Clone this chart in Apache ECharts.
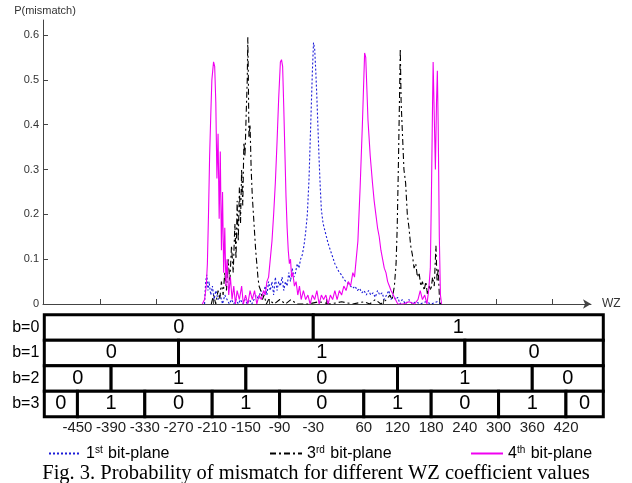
<!DOCTYPE html>
<html><head><meta charset="utf-8">
<script src="https://cdn.jsdelivr.net/npm/echarts@6/dist/echarts.min.js"></script>
<style>html,body{margin:0;padding:0;background:#fff}#c{width:632px;height:483px}</style>
</head><body><div id="c"></div>
<script>
// ---- data (WZ coefficient value, probability of mismatch) ----
const bitPlane1 = [[-224,0.0],[-222,0.05],[-220,0.065],[-218,0.03],[-216,0.05],[-213,0.02],[-210,0.04],[-207,0.01],[-204,0.03],[-200,0.01],[-196,0.02],[-192,0.0],[-188,0.02],[-184,0.01],[-180,0.0],[-176,0.01],[-172,0.0],[-168,0.01],[-164,0.0],[-160,0.01],[-156,0.0],[-152,0.01],[-148,0.0],[-144,0.01],[-140,0.0],[-136,0.01],[-132,0.02],[-128,0.01],[-124,0.03],[-120,0.02],[-116,0.04],[-113,0.02],[-110,0.05],[-107,0.03],[-104,0.05],[-101,0.02],[-98,0.06],[-95,0.03],[-92,0.05],[-89,0.04],[-86,0.06],[-83,0.03],[-80,0.05],[-77,0.04],[-74,0.07],[-71,0.05],[-68,0.08],[-65,0.06],[-62,0.07],[-59,0.09],[-56,0.08],[-53,0.1],[-50,0.11],[-47,0.13],[-44,0.16],[-41,0.2],[-38,0.28],[-36,0.36],[-34,0.44],[-32,0.52],[-30,0.583],[-28,0.57],[-26,0.52],[-24,0.46],[-22,0.39],[-20,0.32],[-18,0.26],[-16,0.21],[-13,0.18],[-10,0.165],[-7,0.15],[-4,0.135],[0,0.12],[4,0.105],[8,0.09],[12,0.08],[16,0.07],[20,0.065],[24,0.055],[28,0.05],[32,0.045],[36,0.04],[40,0.035],[44,0.04],[48,0.03],[52,0.035],[56,0.025],[60,0.03],[64,0.02],[68,0.03],[72,0.02],[76,0.025],[80,0.015],[84,0.03],[88,0.02],[92,0.025],[96,0.01],[100,0.02],[104,0.03],[108,0.01],[112,0.02],[116,0.01],[120,0.015],[124,0.0],[128,0.01],[134,0.0],[140,0.01],[146,0.0],[152,0.005],[160,0.0],[170,0.005],[180,0.0],[190,0.005],[197,0.0]];

const bitPlane3 = [[-212,0.0],[-208,0.02],[-204,0.0],[-200,0.03],[-197,0.01],[-194,0.05],[-191,0.02],[-188,0.07],[-185,0.03],[-182,0.1],[-179,0.05],[-176,0.13],[-173,0.07],[-170,0.18],[-168,0.1],[-166,0.23],[-164,0.14],[-162,0.26],[-160,0.18],[-158,0.3],[-156,0.22],[-154,0.36],[-152,0.33],[-150,0.42],[-148,0.5],[-147,0.595],[-146,0.5],[-145,0.37],[-143,0.4],[-141,0.3],[-139,0.24],[-137,0.2],[-135,0.16],[-133,0.12],[-131,0.09],[-129,0.06],[-127,0.04],[-124,0.03],[-121,0.01],[-118,0.02],[-114,0.0],[-110,0.01],[-100,0.0],[-90,0.01],[-80,0.0],[-70,0.01],[-60,0.0],[-40,0.0],[-20,0.005],[0,0.0],[20,0.005],[40,0.0],[60,0.005],[70,0.0],[80,0.01],[90,0.0],[100,0.01],[106,0.02],[110,0.01],[114,0.04],[117,0.09],[119,0.17],[121,0.3],[123,0.45],[124.5,0.57],[126,0.45],[128,0.39],[131,0.3],[134,0.27],[137,0.2],[140,0.17],[143,0.13],[146,0.11],[149,0.08],[152,0.09],[155,0.06],[158,0.07],[161,0.04],[164,0.05],[167,0.03],[170,0.05],[173,0.02],[176,0.04],[179,0.03],[182,0.06],[185,0.04],[188,0.13],[190,0.05],[192,0.08],[194,0.02],[196,0.0]];

const bitPlane4 = [[-228,0.0],[-224,0.01],[-221,0.04],[-219,0.09],[-217,0.2],[-215,0.33],[-213,0.42],[-211,0.5],[-208,0.54],[-206,0.53],[-204,0.45],[-202,0.28],[-200,0.38],[-198,0.19],[-196,0.34],[-194,0.12],[-192,0.25],[-190,0.07],[-188,0.17],[-186,0.04],[-184,0.1],[-181,0.02],[-178,0.06],[-175,0.01],[-172,0.04],[-169,0.0],[-166,0.03],[-162,0.01],[-158,0.04],[-155,0.0],[-151,0.02],[-147,0.0],[-143,0.03],[-139,0.01],[-135,0.03],[-131,0.0],[-127,0.02],[-123,0.01],[-119,0.03],[-116,0.02],[-113,0.05],[-110,0.06],[-107,0.1],[-104,0.14],[-101,0.2],[-98,0.27],[-95,0.36],[-92,0.46],[-89,0.54],[-87,0.545],[-85,0.53],[-83,0.44],[-81,0.34],[-79,0.24],[-77,0.17],[-75,0.12],[-73,0.09],[-71,0.1],[-69,0.06],[-67,0.07],[-64,0.04],[-61,0.05],[-58,0.02],[-55,0.04],[-52,0.01],[-48,0.03],[-44,0.01],[-40,0.02],[-36,0.0],[-32,0.02],[-28,0.01],[-24,0.03],[-20,0.0],[-16,0.02],[-12,0.01],[-8,0.02],[-4,0.0],[0,0.02],[4,0.01],[8,0.03],[12,0.01],[16,0.03],[20,0.02],[24,0.04],[28,0.03],[32,0.05],[36,0.04],[40,0.07],[43,0.06],[46,0.1],[49,0.14],[51,0.2],[53,0.26],[55,0.33],[57,0.4],[59,0.48],[61,0.56],[63,0.55],[65,0.48],[67,0.41],[69,0.37],[71,0.33],[73,0.3],[75,0.27],[78,0.23],[81,0.2],[84,0.17],[87,0.15],[90,0.12],[93,0.1],[96,0.08],[99,0.07],[102,0.05],[105,0.04],[108,0.03],[112,0.02],[116,0.01],[120,0.0],[130,0.0],[140,0.005],[150,0.0],[156,0.01],[160,0.03],[164,0.01],[168,0.02],[172,0.0],[175,0.03],[178,0.08],[180,0.25],[182,0.45],[183,0.54],[185,0.42],[187,0.3],[189,0.45],[190.5,0.52],[192,0.4],[194,0.15],[196,0.02],[198,0.0]];

const seriesNames = ['1st bit-plane', '3rd bit-plane', '4th bit-plane'];
const legendNums = ['1', '3', '4'];
const legendSups = ['st', 'rd', 'th'];

const yTicks = [0, 0.1, 0.2, 0.3, 0.4, 0.5, 0.6];
const plotTicks = [-410.4, -309.7, -208.9, -108.1, -7.3, 93.5, 194.3, 295.1, 395.8];
const plotMin = -511.7, plotMax = 464.1, yMax = 0.6335;

// bit table
const tableRows = ['b=0', 'b=1', 'b=2', 'b=3'];
const tableMin = -509, tableMax = 486.5;
const b0Edges = [tableMin, -30, tableMax];                          const b0Bits = [0, 1];
const b1Edges = [tableMin, -270, 240, tableMax];                    const b1Bits = [0, 1, 0];
const b2Edges = [tableMin, -390, -150, 120, 360, tableMax];         const b2Bits = [0, 1, 0, 1, 0];
const b3Edges = [tableMin, -450, -330, -210, -90, 60, 180, 300, 420, tableMax]; const b3Bits = [0, 1, 0, 1, 0, 1, 0, 1, 0];
const tickLabels = [-450, -390, -330, -270, -210, -150, -90, -30, 60, 120, 180, 240, 300, 360, 420];
const caption = 'Fig. 3. Probability of mismatch for different WZ coefficient values';

// ---- build ----
const cells = [];
[[b0Edges, b0Bits], [b1Edges, b1Bits], [b2Edges, b2Bits], [b3Edges, b3Bits]].forEach(([e, b], r) => {
  b.forEach((bit, i) => cells.push([r, e[i], e[i + 1], bit]));
});

const SANS = 'Liberation Sans, Arial, sans-serif';
const chart = echarts.init(document.getElementById('c'), null, {renderer: 'canvas'});

function legendFor(idx, left) {
  return {
    data: [seriesNames[idx]], left: left, top: 445, padding: 0,
    itemWidth: 32, itemHeight: 14,
    itemStyle: {color: 'rgba(0,0,0,0)', borderColor: 'rgba(0,0,0,0)', borderWidth: 0},
    formatter: () => legendNums[idx] + '{sup|' + legendSups[idx] + '} bit-plane',
    textStyle: {fontFamily: SANS, fontSize: 16, color: '#000',
      rich: {sup: {fontFamily: SANS, fontSize: 10, color: '#000', verticalAlign: 'top', padding: [0, 1, 7, 0]}}}
  };
}

chart.setOption({
  animation: false,
  backgroundColor: '#fff',
  title: {text: caption, left: 'center', top: 458,
    textStyle: {fontFamily: 'Liberation Serif, Times New Roman, serif', fontSize: 20.5, fontWeight: 'normal', color: '#000'}},
  legend: [legendFor(0, 48), legendFor(1, 269), legendFor(2, 470)],
  grid: [
    {left: 43, top: 20, width: 548, height: 284},
    {left: 44.3, top: 314.7, width: 559, height: 102}
  ],
  xAxis: [
    {gridIndex: 0, type: 'value', min: plotMin, max: plotMax,
      name: 'WZ', nameLocation: 'end', nameGap: 11,
      nameTextStyle: {fontFamily: SANS, fontSize: 12, color: '#333'},
      axisLine: {show: true, onZero: false, lineStyle: {color: '#444', width: 1}, symbol: ['none', 'arrow'], symbolSize: [7, 8]},
      axisTick: {show: true, inside: true, length: 5, customValues: plotTicks, lineStyle: {color: '#444'}},
      axisLabel: {show: false}, splitLine: {show: false}},
    {gridIndex: 1, type: 'value', min: tableMin, max: tableMax,
      axisLine: {show: false}, axisTick: {show: false}, splitLine: {show: false},
      axisLabel: {show: true, customValues: tickLabels, margin: 4, formatter: v => String(v),
        fontFamily: SANS, fontSize: 15, color: '#222'}}
  ],
  yAxis: [
    {gridIndex: 0, type: 'value', min: 0, max: yMax,
      name: 'P(mismatch)', nameLocation: 'end', nameGap: 4,
      nameTextStyle: {fontFamily: SANS, fontSize: 11, color: '#333', padding: [0, 0, 0, 4]},
      axisLine: {show: true, onZero: false, lineStyle: {color: '#444', width: 1}},
      axisTick: {show: true, inside: true, length: 5, customValues: yTicks, lineStyle: {color: '#444'}},
      axisLabel: {customValues: yTicks, margin: 4, fontFamily: SANS, fontSize: 11, color: '#333',
        formatter: v => (v === 0 ? '0' : v.toFixed(1))},
      splitLine: {show: false}},
    {gridIndex: 1, type: 'category', data: tableRows, inverse: true,
      axisLine: {show: false}, axisTick: {show: false},
      axisLabel: {margin: 5, fontFamily: SANS, fontSize: 16, color: '#000'}}
  ],
  series: [
    {name: seriesNames[0], type: 'line', xAxisIndex: 0, yAxisIndex: 0, data: bitPlane1,
      showSymbol: false, symbol: 'none', z: 2, color: '#1c1cd8',
      lineStyle: {color: '#1c1cd8', width: 1.1, type: [2, 2]}},
    {name: seriesNames[1], type: 'line', xAxisIndex: 0, yAxisIndex: 0, data: bitPlane3,
      showSymbol: false, symbol: 'none', z: 3, color: '#000',
      lineStyle: {color: '#000', width: 1.1, type: [6, 3, 2, 3]}},
    {name: seriesNames[2], type: 'line', xAxisIndex: 0, yAxisIndex: 0, data: bitPlane4,
      showSymbol: false, symbol: 'none', z: 4, color: '#f000f0',
      lineStyle: {color: '#f000f0', width: 1.1}},
    {type: 'custom', xAxisIndex: 1, yAxisIndex: 1, data: cells, encode: {x: [1, 2], y: 0},
      renderItem: function (params, api) {
        const row = api.value(0), bit = api.value(3);
        const p0 = api.coord([api.value(1), row]);
        const p1 = api.coord([api.value(2), row]);
        const h = api.size([0, 1])[1];
        return {
          type: 'rect',
          shape: {x: p0[0], y: p0[1] - h / 2, width: p1[0] - p0[0], height: h},
          style: {fill: '#fff', stroke: '#000', lineWidth: 3},
          textContent: {style: {text: String(bit), fontFamily: SANS, fontSize: 20, fill: '#000'}},
          textConfig: {position: 'inside'}
        };
      }}
  ]
});
</script></body></html>
